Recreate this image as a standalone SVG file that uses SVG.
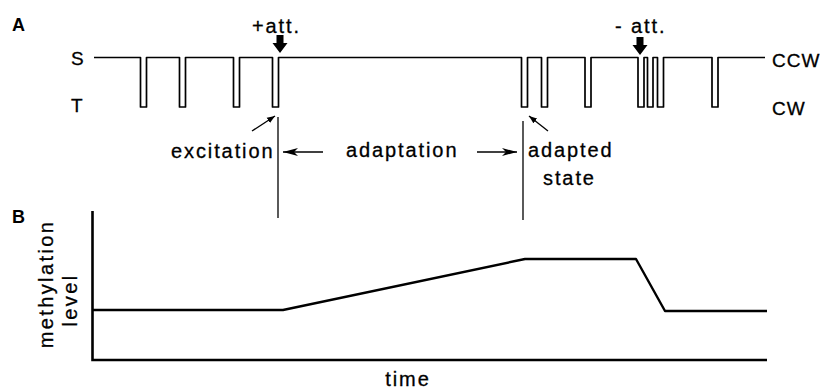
<svg xmlns="http://www.w3.org/2000/svg" width="825" height="391" viewBox="0 0 825 391">
  <defs>
    <style>
      text { font-family: "Liberation Sans", Arial, Helvetica, sans-serif; fill: #000; stroke: #000; stroke-width: 0.3; }
      .lbl { font-size: 20px; letter-spacing: 1.9px; }
      .cap { font-size: 19px; letter-spacing: 1px; }
      .panel { font-size: 18px; font-weight: bold; stroke-width: 0; }
      .trace { fill: none; stroke: #000; stroke-width: 1.7; stroke-linejoin: round; }
      .thin { fill: none; stroke: #000; stroke-width: 1.3; }
      .axis { fill: none; stroke: #000; stroke-width: 2.6; stroke-linejoin: miter; }
      .curve { fill: none; stroke: #000; stroke-width: 2.4; stroke-linejoin: round; }
      .block { fill: #000; }
    </style>
    <!-- barbed filled head for the adaptation arrows -->
    <marker id="barb" markerWidth="16" markerHeight="10" refX="15" refY="5" orient="auto" markerUnits="userSpaceOnUse">
      <path d="M0,1 L15,5 L0,9 L4,5 Z" fill="#000"/>
    </marker>
    <!-- small head for the pointer lines -->
    <marker id="tick" markerWidth="9" markerHeight="7" refX="8" refY="3.5" orient="auto" markerUnits="userSpaceOnUse">
      <path d="M0,0.5 L8,3.5 L0,6.5 Z" fill="#000"/>
    </marker>
  </defs>

  <!-- Panel A: switching record between CCW (S) and CW (T) -->
  <g id="panel-a">
    <text class="panel" x="12" y="31">A</text>
    <text class="cap" x="71" y="65">S</text>
    <text class="cap" x="71" y="112">T</text>
    <text class="cap" x="772" y="67">CCW</text>
    <text class="cap" x="772" y="115">CW</text>
  </g>

  <g id="switching-trace">
    <path class="trace" d="M94,57.5 H140.5 v49.5 h6 v-49.5 H179.5 v49.5 h6 v-49.5 H233.5 v49.5 h6 v-49.5 H272.5 v49.5 h6 v-49.5 H521.5 v49.5 h6 v-49.5 H541.5 v49.5 h6 v-49.5 H585 v49.5 h6 v-49.5 H638 v49.5 h6 v-49.5 H647.5 v49.5 h5.5 v-49.5 H657.5 v49.5 h6 v-49.5 H712 v49.5 h6 v-49.5 H765"/>
  </g>

  <g id="add-attractant">
    <text class="lbl" x="252" y="33">+att.</text>
    <polygon class="block" points="276.5,35 283.5,35 283.5,43 287.5,43 280,53 272.5,43 276.5,43"/>
  </g>

  <g id="remove-attractant">
    <text class="lbl" x="615" y="33">- att.</text>
    <polygon class="block" points="636.5,37 643.5,37 643.5,45 647.5,45 640,55 632.5,45 636.5,45"/>
  </g>

  <g id="excitation">
    <text class="lbl" x="171" y="158">excitation</text>
  </g>

  <g id="adaptation">
    <text class="lbl" x="346" y="157">adaptation</text>
  </g>

  <g id="adapted-state">
    <text class="lbl" x="528" y="157">adapted</text>
    <text class="lbl" x="543" y="185">state</text>
  </g>

  <g id="connectors">
    <line class="thin" x1="278" y1="117" x2="278" y2="218"/>
    <line class="thin" x1="523" y1="121" x2="523" y2="220"/>
    <line class="thin" x1="323" y1="152" x2="283" y2="152" marker-end="url(#barb)"/>
    <line class="thin" x1="477" y1="152" x2="517" y2="152" marker-end="url(#barb)"/>
    <line class="thin" x1="252" y1="131" x2="275" y2="116" stroke-width="1" marker-end="url(#tick)"/>
    <line class="thin" x1="548" y1="131" x2="529" y2="116" stroke-width="1" marker-end="url(#tick)"/>
  </g>

  <!-- Panel B: methylation level over time -->
  <g id="panel-b">
    <text class="panel" x="12" y="223">B</text>
    <path class="axis" d="M92.5,211 V360 H767"/>
    <path class="curve" d="M93,310 H283 L525,259 H636 L665,311 H767"/>
    <text class="lbl" x="408" y="386" text-anchor="middle">time</text>
    <text class="lbl" transform="translate(53,284) rotate(-90)" text-anchor="middle" style="letter-spacing:2.4px">methylation</text>
    <text class="lbl" transform="translate(77,300) rotate(-90)" text-anchor="middle" style="letter-spacing:2.4px">level</text>
  </g>
</svg>
